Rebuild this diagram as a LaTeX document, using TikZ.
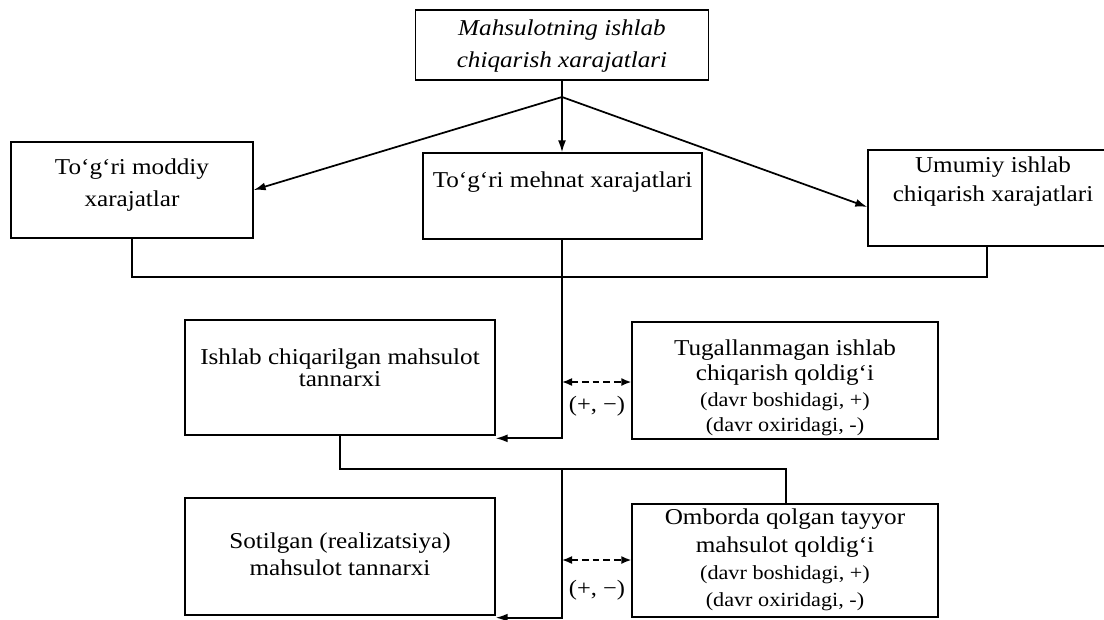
\documentclass[tikz,border=0pt]{standalone}
\usepackage{fontspec}
\setmainfont{Liberation Serif}[FakeStretch=1.11]
\usetikzlibrary{arrows.meta}
\newcommand\mlines[2]{\fontsize{17}{#1}\selectfont\begin{tabular}{@{}c@{}}#2\end{tabular}}
\newcommand\dn[1]{\rule[-#1]{0pt}{0pt}}
\newcommand\upr[1]{\rule{0pt}{#1}}
\newcommand\sm[1]{{\fontsize{15}{15}\selectfont #1}}
\tikzset{
  box/.style 2 args={draw, line width=1pt, inner sep=0pt, minimum width=#1, minimum height=#2},
  conn/.style={line width=1.3pt},
  arr/.style={conn, -{Latex[length=9pt,width=6pt]}},
  darr/.style={line width=1.2pt, dash pattern=on 5pt off 3pt,
    {Latex[length=7.5pt,width=6pt]}-{Latex[length=7.5pt,width=6pt]}},
  pm/.style={inner sep=0pt, font=\fontsize{16.5}{16.5}\selectfont}
}
\begin{document}
\begin{tikzpicture}[x=0.75pt,y=-0.75pt]
\useasboundingbox (0,0) rectangle (1104,619);
% boxes
\node[box={219.75pt}{52.5pt}] (top) at (562,45)
  {\mlines{24pt}{\itshape Mahsulotning ishlab\\\itshape chiqarish xarajatlari}};
\node[box={181.5pt}{72pt}] (L) at (132,190)
  {\mlines{24pt}{To‘g‘ri moddiy\\xarajatlar\dn{16pt}}};
\node[box={209.25pt}{64.5pt}] (M) at (562.5,196)
  {\mlines{20pt}{To‘g‘ri mehnat xarajatlari\dn{27pt}}};
\node[box={187.5pt}{72pt}] (R) at (993,198)
  {\mlines{22pt}{Umumiy ishlab\\chiqarish xarajatlari\dn{32pt}}};
\node[box={232.5pt}{86.25pt}] (I) at (340,377.5)
  {\mlines{16pt}{Ishlab chiqarilgan mahsulot\\tannarxi\dn{15pt}}};
\node[box={229.5pt}{87.75pt}] (T) at (785,380.5)
  {\mlines{19pt}{\upr{25pt}Tugallanmagan ishlab\\chiqarish qoldig‘i\\\sm{(davr boshidagi, +)}\\\sm{(davr oxiridagi, -)}}};
\node[box={232.5pt}{87.75pt}] (S) at (340,556.5)
  {\mlines{20pt}{Sotilgan (realizatsiya)\\mahsulot tannarxi}};
\node[box={229.5pt}{84.75pt}] (O) at (785,560.5)
  {\mlines{20.5pt}{Omborda qolgan tayyor\\mahsulot qoldig‘i\\\sm{(davr boshidagi, +)}\\\sm{(davr oxiridagi, -)}}};
% coordinates
\coordinate (J) at (562,97);
\coordinate (B1) at (132,277);
\coordinate (B2) at (987,277);
\coordinate (K) at (340,469);
\coordinate (K2) at (786,469);
\coordinate (K3) at (562,469);
\coordinate (D1) at (562,382);
\coordinate (D2) at (562,560);
% connectors
\draw[conn] (top.south) -- (J);
\draw[arr] (J) -- (L.east);
\draw[arr] (J) -- (J |- M.north);
\draw[arr] (J) -- ([yshift=-6.75pt]R.west);
\draw[conn] (L.south) -- (B1) -- (B2) -- (B2 |- R.south);
\draw[arr] (D1 |- M.south) |- ([yshift=-2pt]I.south east);
\draw[conn] (K |- I.south) -- (K) -- (K2) -- (K2 |- O.north);
\draw[arr] (K3) |- ([yshift=-1.5pt]S.south east);
\draw[darr] (D1) -- (D1 -| T.west);
\draw[darr] (D2) -- (D2 -| O.west);
\node[pm] (pm1) at (597,406) {(+, −)};
\node[pm] (pm2) at (597,590) {(+, −)};
\end{tikzpicture}
\end{document}
